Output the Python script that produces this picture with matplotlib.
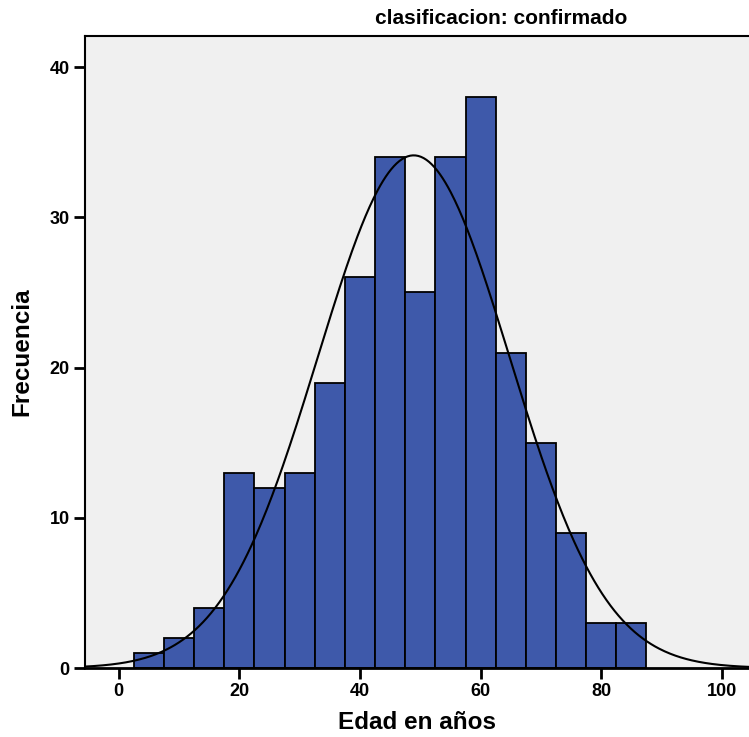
import numpy as np
import matplotlib.pyplot as plt

plt.rcParams['font.family'] = ['Liberation Sans', 'DejaVu Sans']

# Histogram of age (5-year bins starting at 2.5)
bin_edges = [2.5, 7.5, 12.5, 17.5, 22.5, 27.5, 32.5, 37.5, 42.5, 47.5,
             52.5, 57.5, 62.5, 67.5, 72.5, 77.5, 82.5, 87.5]
counts = [1, 2, 4, 13, 12, 13, 19, 26, 34, 25, 34, 38, 21, 15, 9, 3, 3]

# Normal curve parameters
mean_age = 48.9
sd_age = 15.9
n_total = sum(counts)
bin_width = 5

x_ticks = [0, 20, 40, 60, 80, 100]
y_ticks = [0, 10, 20, 30, 40]

fig = plt.figure(figsize=(7.49, 7.37), dpi=100)
ax = fig.add_axes([0.1135, 0.0936, 0.8865, 0.8576])
ax.set_facecolor('#f0f0f0')

lefts = bin_edges[:-1]
widths = np.diff(bin_edges)
ax.bar(lefts, counts, width=widths, align='edge', color='#3e59aa',
       edgecolor='black', linewidth=1.3, zorder=2)

xs = np.linspace(-6, 106, 500)
ys = n_total * bin_width / (sd_age * np.sqrt(2 * np.pi)) * np.exp(-0.5 * ((xs - mean_age) / sd_age) ** 2)
ax.plot(xs, ys, color='black', linewidth=1.5, zorder=3)

ax.set_xlim(-5.6, 104.5)
ax.set_ylim(0, 42.07)
ax.set_xticks(x_ticks)
ax.set_yticks(y_ticks)
for lab in ax.get_xticklabels() + ax.get_yticklabels():
    lab.set_fontweight('bold')
    lab.set_fontsize(13)
ax.tick_params(axis='both', direction='out', length=8, width=2, pad=3)

ax.spines['right'].set_visible(False)
for s in ['left', 'top', 'bottom']:
    ax.spines[s].set_linewidth(1.5)
ax.spines['bottom'].set_linewidth(2)

ax.set_xlabel('Edad en años', fontsize=17.5, fontweight='bold', labelpad=8)
ax.set_ylabel('Frecuencia', fontsize=17.5, fontweight='bold', labelpad=12)

fig.text(0.669, 0.975, 'clasificacion: confirmado', ha='center', va='center',
         fontsize=15, fontweight='bold')

plt.savefig('out.png', dpi=100)
